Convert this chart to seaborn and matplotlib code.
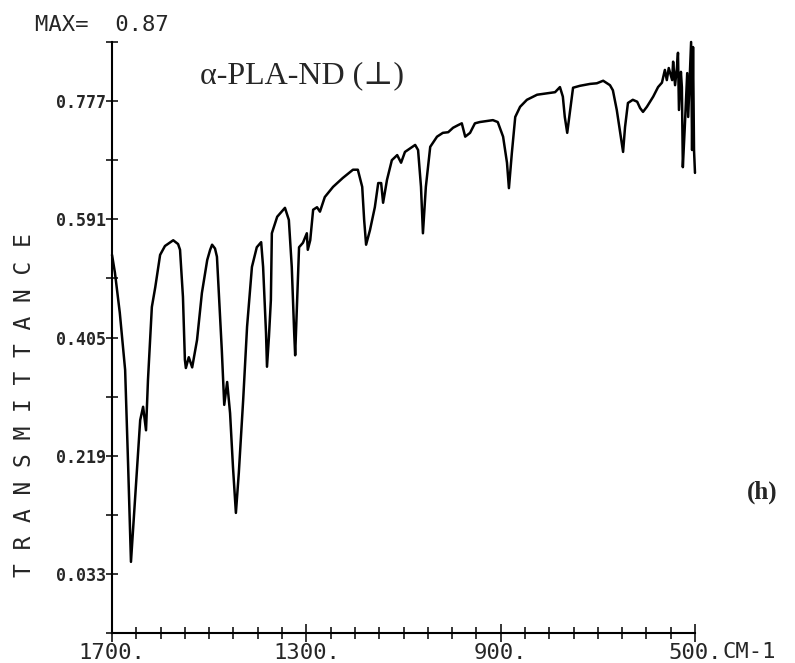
import matplotlib
matplotlib.use("Agg")
import matplotlib.pyplot as plt
import seaborn as sns
import pandas as pd

# ---- data ----
wavenumber = [1700, 1694, 1684, 1673, 1667, 1661, 1653, 1642, 1636, 1630, 1626, 1618, 1611, 1601,
              1591, 1574, 1564, 1560, 1554, 1550, 1548, 1542, 1535, 1525, 1515, 1504, 1498, 1494,
              1488, 1484, 1478, 1474,
              1469, 1463, 1457, 1451, 1445, 1439, 1430, 1422, 1412, 1402, 1393, 1389, 1383, 1381,
              1377, 1373, 1371, 1360, 1344, 1336, 1330, 1325, 1323, 1319, 1315, 1307, 1299, 1297,
              1292, 1286, 1278, 1272, 1262, 1245, 1225, 1204, 1194, 1185, 1181, 1177, 1169, 1159,
              1152, 1146, 1142, 1134, 1124, 1113, 1105, 1097, 1076, 1070, 1064, 1060, 1054, 1045,
              1031, 1019, 1008, 998, 988, 980, 973, 963, 953, 943, 916, 906, 895, 887, 883, 877,
              870, 860, 846, 825, 798, 788, 778, 772, 768, 763, 757, 751, 737, 716, 702, 689, 675,
              669, 661, 654, 648, 644, 638, 628, 619, 613, 607, 599, 586, 576, 568, 562, 558, 554,
              547, 545, 541, 537, 535, 533, 529, 527, 525, 521, 516, 514, 508, 506, 504, 502, 500]
transmittance = [0.535, 0.507, 0.444, 0.354, 0.208, 0.052, 0.145, 0.275, 0.296, 0.259, 0.338, 0.453,
                 0.484, 0.535, 0.549, 0.558, 0.552, 0.543, 0.469, 0.370, 0.357, 0.374, 0.358, 0.401,
                 0.475, 0.527, 0.543, 0.551, 0.545, 0.532, 0.444, 0.385,
                 0.299, 0.335, 0.286, 0.201, 0.129, 0.192, 0.307, 0.422,
                 0.516, 0.547, 0.555, 0.516, 0.412, 0.359, 0.406, 0.464, 0.569, 0.595, 0.609, 0.590,
                 0.516, 0.412, 0.377, 0.464, 0.547, 0.554, 0.569, 0.543, 0.558, 0.606, 0.610, 0.603,
                 0.626, 0.642, 0.656, 0.669, 0.669, 0.642, 0.590, 0.551, 0.574, 0.610, 0.648, 0.648,
                 0.617, 0.653, 0.684, 0.692, 0.680, 0.697, 0.708, 0.700, 0.642, 0.569, 0.642, 0.705,
                 0.721, 0.727, 0.728, 0.735, 0.739, 0.742, 0.721, 0.727, 0.742, 0.744, 0.747, 0.744,
                 0.721, 0.680, 0.640, 0.695, 0.752, 0.768, 0.779, 0.787, 0.790, 0.791, 0.799, 0.784,
                 0.752, 0.727, 0.763, 0.798, 0.801, 0.804, 0.805, 0.809, 0.802, 0.794, 0.763, 0.727,
                 0.697, 0.736, 0.774, 0.779, 0.776, 0.766, 0.760, 0.768, 0.784, 0.799, 0.806, 0.826,
                 0.810, 0.829, 0.810, 0.839, 0.802, 0.831, 0.853, 0.763, 0.823, 0.799, 0.673, 0.736,
                 0.821, 0.752, 0.870, 0.700, 0.862, 0.700, 0.664]

x_major = [1700, 1300, 900, 500]
x_major_labels = ["1700.", "1300.", "900.", "500."]
x_minor = [1650, 1600, 1550, 1500, 1450, 1400, 1350, 1250, 1200, 1150, 1100, 1050, 1000, 950,
           850, 800, 750, 700, 650, 600, 550]
y_major = [0.033, 0.219, 0.405, 0.591, 0.777]
y_major_labels = ["0.033", "0.219", "0.405", "0.591", "0.777"]
y_minor = [-0.060, 0.126, 0.312, 0.498, 0.684, 0.870]

df = pd.DataFrame({"wavenumber": wavenumber, "T": transmittance})

sns.set_style("ticks")
plt.rcParams["font.family"] = ["DejaVu Sans Mono", "DejaVu Sans"]

fig = plt.figure(figsize=(7.95, 6.63), dpi=100)
ax = fig.add_axes([0.1409, 0.0452, 0.7333, 0.8915])

sns.lineplot(data=df, x="wavenumber", y="T", sort=False, estimator=None,
             color="black", linewidth=1.8, ax=ax, clip_on=False)

ax.set_xlim(1700, 500)
ax.set_ylim(-0.060, 0.870)

for s in ["top", "right"]:
    ax.spines[s].set_visible(False)
for s in ["left", "bottom"]:
    ax.spines[s].set_linewidth(1.5)
    ax.spines[s].set_color("black")

ax.set_xticks(x_major)
ax.set_xticklabels(x_major_labels, fontsize=16)
ax.set_xticks(x_minor, minor=True)
ax.set_yticks(y_major)
ax.set_yticklabels(y_major_labels, fontsize=12, fontweight="bold")
ax.set_yticks(y_minor, minor=True)

ax.tick_params(axis="x", which="major", direction="inout", length=13, width=1.3, pad=1)
ax.tick_params(axis="x", which="minor", direction="inout", length=8, width=1.3)
ax.tick_params(axis="y", which="both", direction="inout", length=9, width=1.3, pad=0)

ax.set_xlabel("")
ax.set_ylabel("")

fig.text(722 / 795, 1 - 652 / 663, "CM-1", fontsize=16, ha="left", va="center")
fig.text(25 / 795, 1 - 405 / 663, "T R A N S M I T T A N C E", rotation=90,
         fontsize=16.5, ha="center", va="center")
fig.text(35 / 795, 1 - 25 / 663, "MAX=  0.87", fontsize=16, ha="left", va="center")

fig.text(200 / 795, 1 - 76 / 663, "α-PLA-ND (⊥)", fontsize=23,
         family=["Liberation Serif", "DejaVu Serif", "DejaVu Sans"],
         ha="left", va="center")
fig.text(762 / 795, 1 - 492 / 663, "(h)", fontsize=18, fontweight="bold",
         family=["Liberation Serif", "DejaVu Serif"], ha="center", va="center")

fig.savefig("out.png", dpi=100)
